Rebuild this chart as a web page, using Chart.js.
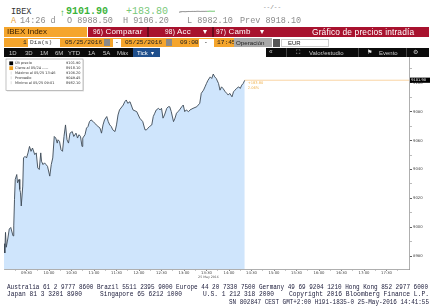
<!DOCTYPE html>
<html>
<head>
<meta charset="utf-8">
<script src="https://cdn.jsdelivr.net/npm/chart.js@4.4.1/dist/chart.umd.min.js"></script>
<style>
  body { margin: 0; width: 432px; height: 306px; overflow: hidden; background: #fff; position: relative;
         font-family: "Liberation Sans", Arial, sans-serif; }
  .t { position: absolute; white-space: pre; line-height: 1; }
  .m { font-family: "Liberation Mono", monospace; }
  .box { position: absolute; }
  #footer { position: absolute; left: 0; top: 280px; }
  #footer text { font-family: "Liberation Mono", monospace; font-size: 6.4px; fill: #1b1b3a; }
  #main { position: absolute; left: 0; top: 52px; width: 432px; height: 231px; }
  #spark { position: absolute; left: 178px; top: 7px; width: 38px; height: 10px; }
</style>
</head>
<body>
<!-- header row 1 -->
<div class="t m" style="left:11px;top:8px;font-size:8.5px;color:#333">IBEX</div>
<div class="t" style="left:60px;top:7.5px;font-size:9.5px;color:#35b035">↑</div>
<div class="t m" style="left:66px;top:7px;font-size:10px;font-weight:bold;color:#3cb43c">9101.90</div>
<div class="t m" style="left:126px;top:7px;font-size:10px;color:#78c878">+183.80</div>
<div class="t m" style="left:263px;top:4.5px;font-size:6px;color:#777">--/--</div>
<div id="spark"><canvas id="sparkCanvas"></canvas></div>
<!-- header row 2 -->
<div class="t m" style="left:11px;top:16.5px;font-size:8.5px;color:#e8a33b">A</div>
<div class="t m" style="left:20px;top:16.5px;font-size:8.5px;color:#8c8c8c">14:26 d</div>
<div class="t m" style="left:67px;top:16.5px;font-size:8.5px;color:#8c8c8c">O 8988.50</div>
<div class="t m" style="left:123px;top:16.5px;font-size:8.5px;color:#8c8c8c">H 9106.20</div>
<div class="t m" style="left:187px;top:16.5px;font-size:8.5px;color:#8c8c8c">L 8982.10</div>
<div class="t m" style="left:240px;top:16.5px;font-size:8.5px;color:#8c8c8c">Prev 8918.10</div>
<!-- row 3 -->
<div class="box" style="left:4px;top:27px;width:83px;height:10px;background:#f5a52c"></div>
<div class="t" style="left:7px;top:28px;font-size:8px;color:#3a2000">IBEX Index</div>
<div class="box" style="left:88px;top:27px;width:341px;height:10px;background:#a8122e"></div>
<div class="box" style="left:147px;top:27px;width:1.5px;height:10px;background:#6a0a1c"></div>
<div class="box" style="left:212px;top:27px;width:1.5px;height:10px;background:#6a0a1c"></div>
<div class="t" style="left:93px;top:28px;font-size:8px;color:#fff;letter-spacing:0.2px"><span style="font-size:6.5px">96)</span> Comparar</div>
<div class="t" style="left:165px;top:28px;font-size:8px;color:#fff;letter-spacing:0.2px"><span style="font-size:6.5px">98)</span> Acc     ▾</div>
<div class="t" style="left:216px;top:28px;font-size:8px;color:#fff;letter-spacing:0.2px"><span style="font-size:6.5px">97)</span> Camb    ▾</div>
<div class="t" style="left:312px;top:27.8px;font-size:8.4px;color:#fff;letter-spacing:0.15px">Gráfico de precios intradía</div>
<!-- row 4 -->
<div class="box" style="left:4px;top:38px;width:230px;height:9px;background:#f5a52c"></div>
<div class="t m" style="left:23px;top:39.5px;font-size:6.2px;color:#222">1</div>
<div class="box" style="left:28px;top:38.5px;width:32px;height:8px;background:#fff"></div>
<div class="t m" style="left:30px;top:39.5px;font-size:6.2px;color:#444">Día(s)</div>
<div class="t m" style="left:65px;top:39.5px;font-size:6.2px;color:#222">05/25/2016</div>
<div class="box" style="left:104px;top:39px;width:6px;height:7px;background:#8a8a8a"></div>
<div class="box" style="left:113px;top:38.5px;width:8px;height:8px;background:#fff"></div>
<div class="t m" style="left:115px;top:39.5px;font-size:6.2px;color:#222">-</div>
<div class="t m" style="left:125px;top:39.5px;font-size:6.2px;color:#222">05/25/2016</div>
<div class="box" style="left:166px;top:39px;width:6px;height:7px;background:#8a8a8a"></div>
<div class="t m" style="left:180px;top:39.5px;font-size:6.2px;color:#222">09:00</div>
<div class="box" style="left:199px;top:38.5px;width:15px;height:8px;background:#fff"></div>
<div class="t m" style="left:204px;top:39.5px;font-size:6.2px;color:#222">-</div>
<div class="t m" style="left:217px;top:39.5px;font-size:6.2px;color:#222">17:45</div>
<div class="box" style="left:234px;top:38px;width:38px;height:9px;background:#a9a9a9"></div>
<div class="t" style="left:236px;top:39.5px;font-size:6.2px;color:#222">Operación</div>
<div class="box" style="left:273px;top:38.5px;width:7px;height:8px;background:#555"></div>
<div class="box" style="left:281px;top:38.5px;width:48px;height:8px;background:#fff;border:0.5px solid #ccc;box-sizing:border-box"></div>
<div class="t" style="left:288px;top:39.5px;font-size:6px;color:#222">EUR</div>
<!-- row 5 -->
<div class="box" style="left:4px;top:48px;width:156px;height:9px;background:#0b0b0b"></div>
<div class="box" style="left:133px;top:48px;width:27px;height:9px;background:#1f4f8c"></div>
<div class="t" style="left:9px;top:49.5px;font-size:6px;color:#ccc">1D</div>
<div class="t" style="left:25px;top:49.5px;font-size:6px;color:#ccc">3D</div>
<div class="t" style="left:40px;top:49.5px;font-size:6px;color:#ccc">1M</div>
<div class="t" style="left:55px;top:49.5px;font-size:6px;color:#ccc">6M</div>
<div class="t" style="left:68px;top:49.5px;font-size:6px;color:#ccc">YTD</div>
<div class="t" style="left:88px;top:49.5px;font-size:6px;color:#ccc">1A</div>
<div class="t" style="left:103px;top:49.5px;font-size:6px;color:#ccc">5A</div>
<div class="t" style="left:117px;top:49.5px;font-size:6px;color:#ccc">Máx</div>
<div class="t" style="left:137px;top:49.5px;font-size:6px;color:#fff">Tick  ▾</div>
<div class="box" style="left:266px;top:48px;width:163px;height:9px;background:#0b0b0b"></div>
<div class="t" style="left:269px;top:49px;font-size:6.5px;color:#ccc">«</div>
<div class="box" style="left:286px;top:48px;width:1px;height:9px;background:#444"></div>
<div class="t" style="left:296px;top:49px;font-size:6px;color:#ccc">⛶</div>
<div class="t" style="left:309px;top:49.5px;font-size:6px;color:#ccc">Valor/estudio</div>
<div class="box" style="left:358px;top:48px;width:1px;height:9px;background:#444"></div>
<div class="t" style="left:367px;top:49px;font-size:6px;color:#eee">⚑</div>
<div class="t" style="left:379px;top:49.5px;font-size:6px;color:#ccc">Evento</div>
<div class="box" style="left:406px;top:48px;width:1px;height:9px;background:#444"></div>
<div class="t" style="left:413px;top:49px;font-size:6px;color:#ccc">⚙</div>

<div id="main"><canvas id="chart"></canvas></div>

<!-- footer -->
<svg id="footer" width="432" height="26">
  <text x="7" y="8.8" textLength="421" lengthAdjust="spacingAndGlyphs">Australia 61 2 9777 8600 Brazil 5511 2395 9000 Europe 44 20 7330 7500 Germany 49 69 9204 1210 Hong Kong 852 2977 6000</text>
  <text x="7" y="16.3" textLength="75" lengthAdjust="spacingAndGlyphs">Japan 81 3 3201 8900</text>
  <text x="100" y="16.3" textLength="82" lengthAdjust="spacingAndGlyphs">Singapore 65 6212 1000</text>
  <text x="203" y="16.3" textLength="71" lengthAdjust="spacingAndGlyphs">U.S. 1 212 318 2000</text>
  <text x="289" y="16.3" textLength="140" lengthAdjust="spacingAndGlyphs">Copyright 2016 Bloomberg Finance L.P.</text>
  <text x="229" y="23.6" textLength="200" lengthAdjust="spacingAndGlyphs">SN 802847 CEST GMT+2:00 H191-1835-0 25-May-2016 14:41:55</text>
</svg>

<script>
// minutes after 09:00 and IBEX price at that moment
const minutes = [0, 1, 2, 3, 5, 7, 9, 12, 13, 14, 15, 17, 18, 20, 21, 22, 23, 25, 26, 28, 30, 32, 34, 36, 38, 41,
  43, 45, 47, 49, 50, 52, 54, 56, 58, 61, 63, 65, 67, 69, 71, 72, 74, 76, 78, 80, 82, 84, 86, 88, 91, 93, 96, 98,
  100, 102, 104, 105, 108, 110, 112, 114, 116, 119, 121, 123, 128, 130, 132, 134, 137, 139, 141, 143, 145, 148,
  150, 152, 154, 159, 161, 163, 165, 168, 172, 177, 181, 185, 188, 190, 192, 194, 197, 199, 201, 203, 206, 208,
  210, 212, 214, 217, 219, 221, 223, 226, 228, 230, 232, 234, 237, 239, 241, 243, 246, 248, 252, 257, 259, 261,
  263, 266, 268, 270, 272, 275, 277, 279, 281, 283, 286, 288, 290, 292, 295, 297, 299, 301, 304, 306, 308, 310,
  313, 315, 317, 319, 321];
const prices = [8988.5, 8982.1, 8996.4, 8986.1, 8991.8, 8998.7, 8999.8, 8994.0, 9000.9, 9019.3, 9033.1, 9036.5,
  9030.8, 9033.1, 9026.2, 9023.9, 9014.7, 9028.5, 9048.0, 9049.1, 9048.0, 9051.5, 9056.0, 9052.6, 9054.9, 9050.3,
  9051.5, 9041.1, 9040.0, 9051.5, 9045.7, 9043.4, 9044.6, 9043.4, 9042.2, 9035.4, 9043.4, 9048.0, 9062.9, 9061.8,
  9058.3, 9060.6, 9059.5, 9053.7, 9052.6, 9062.9, 9070.9, 9060.6, 9058.3, 9065.2, 9066.3, 9062.9, 9065.2, 9061.8,
  9064.1, 9062.9, 9056.0, 9061.8, 9064.1, 9068.7, 9069.8, 9073.2, 9074.4, 9073.2, 9072.1, 9070.9, 9068.7, 9065.2,
  9070.9, 9074.4, 9076.7, 9073.2, 9070.9, 9069.8, 9067.5, 9066.3, 9070.9, 9077.8, 9081.3, 9084.7, 9087.0, 9088.2,
  9085.9, 9087.0, 9081.3, 9080.1, 9075.6, 9073.2, 9067.5, 9067.5, 9068.7, 9069.8, 9070.9, 9076.7, 9079.0, 9081.3,
  9082.4, 9081.3, 9082.4, 9075.6, 9077.8, 9082.4, 9083.5, 9083.5, 9080.1, 9073.2, 9075.6, 9079.0, 9080.1, 9081.3,
  9083.5, 9084.7, 9080.1, 9081.3, 9080.1, 9081.3, 9082.4, 9083.5, 9084.7, 9085.9, 9092.8, 9095.0, 9097.3, 9099.7,
  9101.9, 9104.2, 9103.1, 9106.2, 9104.2, 9103.1, 9099.7, 9095.0, 9097.3, 9096.2, 9093.9, 9092.8, 9091.6, 9092.8,
  9090.4, 9093.9, 9095.0, 9096.2, 9097.3, 9096.2, 9098.5, 9099.7, 9101.9];

const timeLabels = ['09:30', '10:00', '10:30', '11:00', '11:30', '12:00', '12:30', '13:00', '13:30',
  '14:00', '14:30', '15:00', '15:30', '16:00', '16:30', '17:00', '17:30'];
const priceTicks = [8980, 9000, 9020, 9040, 9060, 9080, 9100];

const lastPrice = 9101.90;
const changeText = ['+183.80', '2.06%'];
const dateLabel = '25 May 2016';

const legendNames = ['Últ precio', 'Cierre al 05/24 -----', 'Máximo al 05/25 13:46', 'Promedio', 'Mínimo al 05/25 09:01'];
const legendValues = ['9101.90', '8918.10', '9106.20', '9049.45', '8982.10'];
const legendMarks = ['#000000', '#f0a020', null, null, null];

const toMin = s => (parseInt(s.slice(0, 2)) - 9) * 60 + parseInt(s.slice(3));
const majorMinutes = timeLabels.map(toMin);
const points = minutes.map((m, i) => ({ x: m, y: prices[i] }));

const overlay = {
  id: 'bbgOverlay',
  afterDraw(chart) {
    const { ctx, chartArea: a, scales: { x, y } } = chart;
    const lx = x.getPixelForValue(minutes[minutes.length - 1]);
    const ly = y.getPixelForValue(lastPrice);
    ctx.save();
    // last price line
    ctx.strokeStyle = '#f7c98c';
    ctx.lineWidth = 0.8;
    ctx.beginPath(); ctx.moveTo(lx, ly); ctx.lineTo(a.right, ly); ctx.stroke();
    ctx.font = '3.6px "DejaVu Sans"';
    ctx.textBaseline = 'middle';
    ctx.fillStyle = '#efb350';
    ctx.fillText(changeText[0], lx + 3, ly + 2.5);
    ctx.fillText(changeText[1], lx + 3, ly + 7.8);
    ctx.fillStyle = '#000';
    ctx.fillRect(a.right + 1, ly - 2.6, 20, 5.2);
    ctx.fillStyle = '#fff';
    ctx.fillText(lastPrice.toFixed(2), a.right + 2.2, ly);
    // date under the 13:30 label
    ctx.fillStyle = '#555';
    ctx.font = '3.2px "DejaVu Sans"';
    ctx.textAlign = 'center';
    ctx.fillText(dateLabel, x.getPixelForValue(toMin('13:30')) + 2, a.bottom + 7.8);
    // legend box
    ctx.textAlign = 'left';
    ctx.fillStyle = 'rgba(0,0,0,0.12)';
    ctx.fillRect(7, 8, 77, 31.5);
    ctx.fillStyle = '#fff';
    ctx.fillRect(6, 7, 77, 31.5);
    ctx.strokeStyle = '#9a9a9a';
    ctx.lineWidth = 0.6;
    ctx.strokeRect(6, 7, 77, 31.5);
    ctx.font = '3.5px "DejaVu Sans"';
    legendNames.forEach((n, i) => {
      const cy = 11.3 + i * 4.85;
      if (legendMarks[i]) {
        ctx.fillStyle = legendMarks[i];
        ctx.fillRect(9.3, cy - 1.9, 3.8, 3.8);
      } else {
        ctx.fillStyle = '#c8c8c8';
        ctx.fillRect(10.8, cy - 1.5, 0.6, 3);
      }
      ctx.fillStyle = '#333';
      ctx.textAlign = 'left';
      ctx.fillText(n, 15, cy);
      ctx.textAlign = 'right';
      ctx.fillText(legendValues[i], 80.5, cy);
    });
    ctx.restore();
  }
};

new Chart(document.getElementById('chart'), {
  type: 'line',
  data: {
    datasets: [{
      data: points,
      borderColor: '#3c4855',
      borderWidth: 0.9,
      backgroundColor: '#cfe5fc',
      fill: 'start',
      pointRadius: 0,
      tension: 0
    }]
  },
  options: {
    responsive: true,
    maintainAspectRatio: false,
    animation: false,
    layout: { padding: { left: 4, top: 5, right: 0, bottom: 0 } },
    plugins: { legend: { display: false }, tooltip: { enabled: false } },
    scales: {
      x: {
        type: 'linear',
        min: 0,
        max: 540,
        afterBuildTicks: axis => {
          const t = [];
          majorMinutes.forEach(m => { t.push({ value: m - 15 }); t.push({ value: m }); });
          t.push({ value: 525 });
          axis.ticks = t;
        },
        afterFit: scale => { scale.height = 14; },
        grid: {
          drawOnChartArea: false,
          tickLength: 2,
          tickColor: c => (majorMinutes.includes(c.tick.value) ? '#444' : '#aaa'),
          tickWidth: 0.7
        },
        border: { display: true, color: '#9a9a9a', width: 0.8 },
        ticks: {
          autoSkip: false,
          maxRotation: 0,
          minRotation: 0,
          padding: 0,
          color: '#444',
          font: { family: 'DejaVu Sans', size: 3.8 },
          callback: v => {
            const i = majorMinutes.indexOf(v);
            return i >= 0 ? timeLabels[i] : '';
          }
        }
      },
      y: {
        position: 'right',
        min: 8971,
        max: 9118,
        afterBuildTicks: axis => {
          const t = [];
          priceTicks.forEach(p => { t.push({ value: p }); t.push({ value: p + 10 }); });
          axis.ticks = t;
        },
        afterFit: scale => { scale.width = 23; },
        grid: {
          drawOnChartArea: false,
          tickLength: 3,
          tickColor: c => (priceTicks.includes(c.tick.value) ? '#333' : '#aaa'),
          tickWidth: 0.8
        },
        border: { display: true, color: '#9a9a9a', width: 0.8 },
        ticks: {
          padding: 1,
          color: '#444',
          font: { family: 'DejaVu Sans', size: 3.8 },
          callback: v => (priceTicks.includes(v) ? String(v) : '')
        }
      }
    }
  },
  plugins: [overlay]
});

// small sparkline in the header, same series
new Chart(document.getElementById('sparkCanvas'), {
  type: 'line',
  data: { datasets: [{ data: points, borderWidth: 0.8, pointRadius: 0, fill: false,
    segment: { borderColor: c => (c.p0.parsed.x >= 250 ? '#3cb43c' : '#666') } }] },
  options: {
    responsive: true, maintainAspectRatio: false, animation: false,
    layout: { padding: 1 },
    plugins: { legend: { display: false }, tooltip: { enabled: false } },
    scales: { x: { type: 'linear', display: false, min: 0, max: 321 }, y: { display: false } }
  }
});
</script>
</body>
</html>
